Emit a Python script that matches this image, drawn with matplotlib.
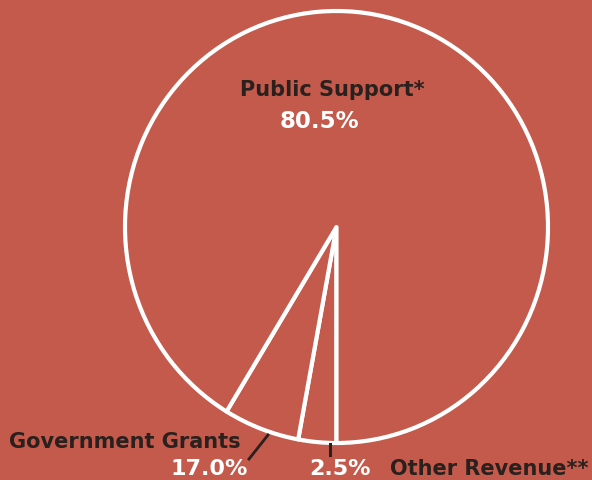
import matplotlib
matplotlib.use("Agg")
import matplotlib.pyplot as plt

# ------------------------------------------------------------
# dados
# ------------------------------------------------------------
categories = ["Other Revenue**", "Government Grants", "Public Support*"]
pct_labels = ["2.5%", "17.0%", "80.5%"]
# angular share of each wedge as actually drawn in the picture (percent of circle)
drawn_share = [2.9, 5.8, 91.3]

bg = "#c35a4b"
dark = "#2a201e"
W, H = 592, 480


def fx(px):
    return px / W


def fy(py):
    return 1 - py / H


fig = plt.figure(figsize=(W / 100, H / 100), dpi=100)
fig.patch.set_facecolor(bg)

# pie axes: circle spans x 125..548, y 11..443 px
ax = fig.add_axes([fx(125), fy(443), 423 / W, 432 / H])
ax.set_facecolor(bg)
ax.pie(drawn_share, startangle=-90, counterclock=False,
       colors=[bg] * 3,
       wedgeprops=dict(edgecolor="white", linewidth=3.0, joinstyle="round"))
ax.set_xlim(-1.0, 1.0)
ax.set_ylim(-1.0, 1.0)
ax.set_aspect("auto")
ax.axis("off")

font = dict(fontweight="bold", family="DejaVu Sans", va="baseline")

# Public Support
fig.text(fx(332), fy(96), categories[2], color=dark, fontsize=15,
         ha="center", **font)
fig.text(fx(319), fy(128), pct_labels[2], color="white", fontsize=16.5,
         ha="center", **font)

# Government Grants
fig.text(fx(9), fy(448), categories[1], color=dark, fontsize=15,
         ha="left", **font)
fig.text(fx(209), fy(475), pct_labels[1], color="white", fontsize=16,
         ha="center", **font)
fig.add_artist(plt.Line2D([fx(268), fx(249)], [fy(435), fy(459)],
                          color=dark, lw=2))

# Other Revenue
fig.text(fx(340), fy(475), pct_labels[0], color="white", fontsize=16,
         ha="center", **font)
fig.text(fx(390), fy(475), categories[0], color=dark, fontsize=15,
         ha="left", **font)
fig.add_artist(plt.Line2D([fx(330), fx(330)], [fy(444), fy(455)],
                          color=dark, lw=2.2))

fig.savefig("out.png", dpi=100, facecolor=bg)
